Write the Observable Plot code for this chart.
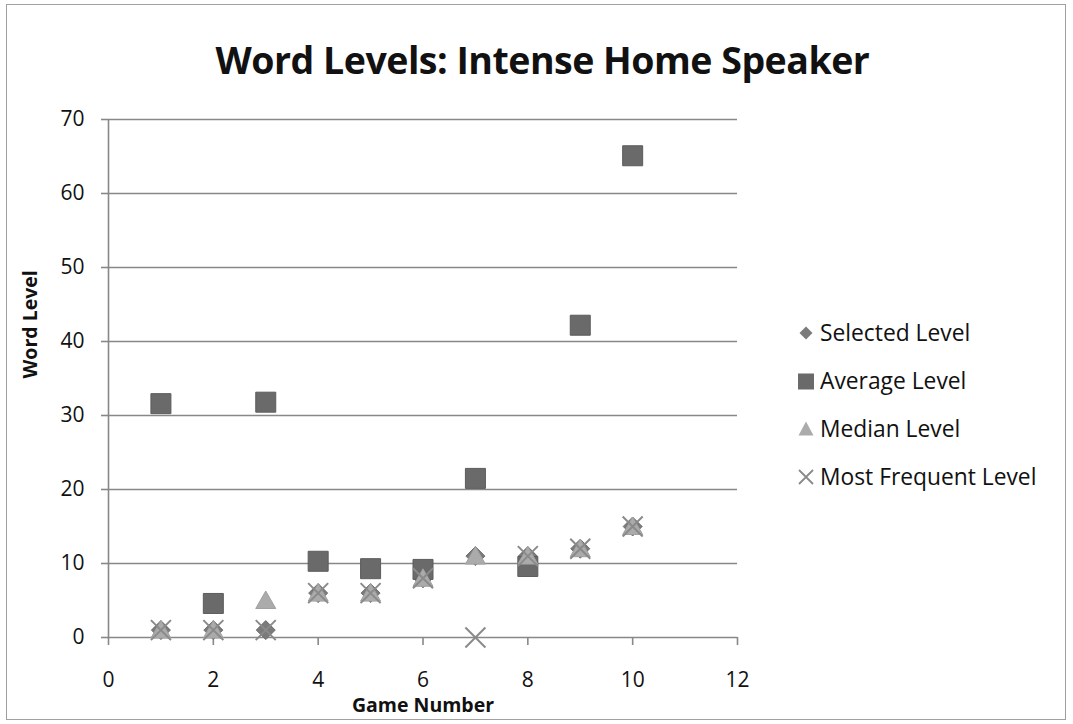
<!DOCTYPE html>
<html>
<head>
<meta charset="utf-8">
<script src="https://cdn.jsdelivr.net/npm/d3@7"></script>
<script src="https://cdn.jsdelivr.net/npm/@observablehq/plot@0.6"></script>
<style>
  body { margin: 0; background: #fff; }
  #chart { position: relative; width: 1073px; height: 724px; font-family: "Open Sans", sans-serif; color: #111; }
  #frame { position: absolute; left: 6px; top: 4px; width: 1060px; height: 716px; border: 1.5px solid #a0a0a0; box-sizing: border-box; }
  #title { position: relative; box-sizing: border-box; height: 100px; padding-top: 10px; text-align: center; font-weight: bold; font-size: 37.5px; line-height: 100px; padding-left: 12px; letter-spacing: -0.5px; white-space: nowrap; }
  #legend { position: absolute; left: 796px; top: 318px; font-size: 22.8px; }
  #legend .item { height: 48px; display: flex; align-items: flex-start; }
  #legend svg { width: 20px; height: 30px; flex: none; }
  #legend span { line-height: 30px; margin-left: 4px; white-space: nowrap; }
</style>
</head>
<body>
<div id="chart">
  <div id="frame"></div>
  <div id="title">Word Levels: Intense Home Speaker</div>
  <div id="plot"></div>
  <div id="legend"></div>
</div>
<script>
// Word levels by game
const games = [1, 2, 3, 4, 5, 6, 7, 8, 9, 10];
const selectedLevel = [1, 1, 1, 6, 6, 8, 11, 11, 12, 15];
const averageLevel = [31.6, 4.6, 31.8, 10.3, 9.3, 9.2, 21.5, 9.6, 42.2, 65.1];
const medianLevel = [1, 1, 5, 6, 6, 8, 11, 11, 12, 15];
const mostFrequentLevel = [1, 1, 1, 6, 6, 8, 0, 11, 12, 15];
const seriesNames = ["Selected Level", "Average Level", "Median Level", "Most Frequent Level"];
const xTicks = [0, 2, 4, 6, 8, 10, 12];
const yTicks = [0, 10, 20, 30, 40, 50, 60, 70];

// Marker shapes drawn at a half-width derived from the dot radius
function polygon(points) {
  return {
    draw(ctx, size) {
      const r = Math.sqrt(size / Math.PI);
      ctx.moveTo(points[0][0] * r, points[0][1] * r);
      for (const [px, py] of points.slice(1)) ctx.lineTo(px * r, py * r);
      ctx.closePath();
    }
  };
}
const diamond = polygon([[0, -1], [1, 0], [0, 1], [-1, 0]]);
const square = polygon([[-1, -1], [1, -1], [1, 1], [-1, 1]]);
const triangle = polygon([[0, -0.95], [1, 0.8], [-1, 0.8]]);
const cross = {
  draw(ctx, size) {
    const r = Math.sqrt(size / Math.PI);
    ctx.moveTo(-r, -r); ctx.lineTo(r, r);
    ctx.moveTo(-r, r); ctx.lineTo(r, -r);
  }
};

const styles = [
  {symbol: diamond, r: 9.5, fill: "#7b7b7b", stroke: "#6e6e6e", strokeWidth: 1},
  {symbol: square, r: 10, fill: "#6a6a6a", stroke: "#5c5c5c", strokeWidth: 1},
  {symbol: triangle, r: 10, fill: "#ababab", stroke: "#a0a0a0", strokeWidth: 1},
  {symbol: cross, r: 10, fill: "none", stroke: "#8a8a8a", strokeWidth: 2}
];
const seriesValues = [selectedLevel, averageLevel, medianLevel, mostFrequentLevel];
const rows = seriesValues.map((vals) => games.map((g, i) => ({game: g, value: vals[i]})));

const plot = Plot.plot({
  width: 1073,
  height: 624,
  marginLeft: 108,
  marginRight: 336,
  marginTop: 19,
  marginBottom: 87,
  style: {fontFamily: "Open Sans, sans-serif", fontSize: "21px", color: "#111", background: "transparent", overflow: "visible"},
  x: {domain: [0, 12]},
  y: {domain: [0, 70]},
  marks: [
    Plot.ruleY(yTicks.filter((t) => t > 0), {stroke: "#888", strokeWidth: 1.6}),
    Plot.ruleX([0], {stroke: "#888", strokeWidth: 1.6}),
    Plot.ruleY([0], {stroke: "#888", strokeWidth: 1.6}),
    Plot.axisY({ticks: yTicks, tickSize: 7, tickPadding: 17, stroke: "#888", strokeWidth: 1.6, fill: "#111", label: null, tickFormat: (d) => d}),
    Plot.axisX({ticks: xTicks, tickSize: 8, tickPadding: 27, stroke: "#888", strokeWidth: 1.6, fill: "#111", label: null, tickFormat: (d) => d}),
    ...rows.map((data, k) => Plot.dot(data, {x: "game", y: "value", ...styles[k]})),
    Plot.text(["Game Number"], {frameAnchor: "bottom", dy: 68, text: (d) => d, fontWeight: "bold", fontSize: 19.5, fill: "#111", lineAnchor: "middle"}),
    Plot.text(["Word Level"], {frameAnchor: "left", dx: -78, rotate: -90, text: (d) => d, fontWeight: "bold", fontSize: 19.5, fill: "#111"})
  ]
});
document.getElementById("plot").appendChild(plot);

// Legend with the same marker shapes
const legendShapes = [
  '<path d="M10,8.5 L16.5,15 L10,21.5 L3.5,15 Z" fill="#7b7b7b"/>',
  '<rect x="2" y="7.5" width="16" height="16" fill="#6a6a6a"/>',
  '<path d="M10,7.5 L17.5,21.5 L2.5,21.5 Z" fill="#ababab"/>',
  '<path d="M3,8 L17,22 M3,22 L17,8" stroke="#8a8a8a" stroke-width="1.8" fill="none"/>'
];
const legend = document.getElementById("legend");
seriesNames.forEach((name, k) => {
  const item = document.createElement("div");
  item.className = "item";
  item.innerHTML = `<svg viewBox="0 0 20 30">${legendShapes[k]}</svg><span>${name}</span>`;
  legend.appendChild(item);
});
</script>
</body>
</html>
